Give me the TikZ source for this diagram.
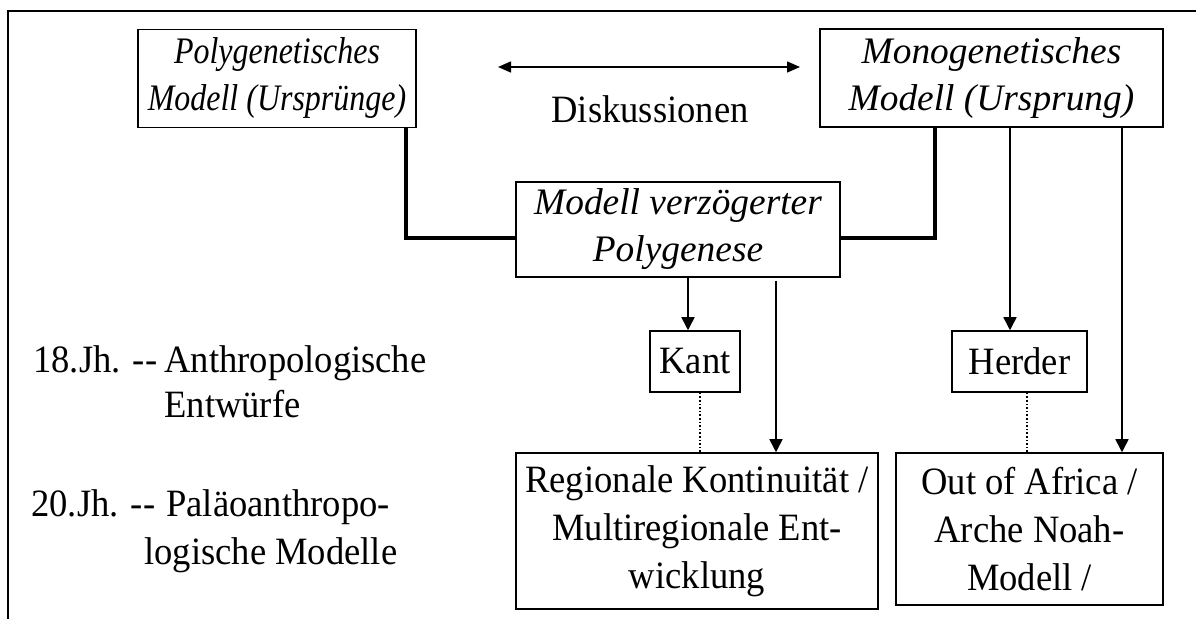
\documentclass[tikz,border=0pt]{standalone}
\usepackage{fontspec}
\setmainfont{Liberation Serif}
\newfontfamily\narrowserif[FakeStretch=0.945]{Liberation Serif}
\newfontfamily\condensedserif[FakeStretch=0.855]{Liberation Serif}
\usetikzlibrary{arrows.meta}

\begin{document}
\begin{tikzpicture}[x=0.5pt,y=-0.5pt,
  txt/.style={font=\narrowserif\fontsize{19.35}{24}\selectfont},
  box/.style={txt, draw, line width=0.75pt, inner sep=0pt, align=center},
  ibox/.style={draw, line width=0.75pt, inner sep=0pt, align=center,
    font=\fontsize{18.7}{23.5}\selectfont\itshape},
  narrowibox/.style={ibox, font=\condensedserif\fontsize{18.7}{23.5}\selectfont\itshape},
  link/.style={line width=1.6pt},
  arr/.style={line width=0.75pt, -{Triangle[length=6.5pt,width=6.5pt]}},
  dots/.style={line width=0.75pt, dash pattern=on 0.8pt off 1pt},
  label/.style={txt, inner sep=0pt, anchor=base west}]

\useasboundingbox (0,0) rectangle (1196,619);

% frame (open at the right and bottom)
\draw[line width=1pt] (8,619) -- (8,11) -- (1196,11);

% model boxes
\node[narrowibox, minimum width=139pt, minimum height=49pt] (poly) at (277,78.5)
  {Polygenetisches\\Modell (Ursprünge)};
\node[ibox, minimum width=171.5pt, minimum height=49pt] (mono) at (991.5,78)
  {Monogenetisches\\Modell (Ursprung)};
\node[ibox, minimum width=162pt, minimum height=47.5pt] (delay) at (678,229.5)
  {Modell verzögerter\\Polygenese};

% authors
\node[box, minimum width=45pt, minimum height=30.5pt] (kant) at (695,361.5) {Kant};
\node[box, minimum width=67.5pt, minimum height=30.5pt] (herder) at (1019.5,361.5) {Herder};

% modern models
\node[box, minimum width=181pt, minimum height=78pt] (regio) at (697,531)
  {Regionale Kontinuität /\\Multiregionale Ent-\\wicklung};
\node[box, minimum width=133.5pt, minimum height=76pt] (africa) at (1029.5,529)
  {Out of Africa /\\Arche Noah-\\Modell /};

% discussion between the two classic models
\coordinate (dl) at (498,67);
\coordinate (dr) at (800,67);
\draw[line width=0.75pt, {Triangle[length=6.5pt,width=5.5pt]}-{Triangle[length=6.5pt,width=5.5pt]}] (dl) -- (dr);
\node[txt, inner sep=0pt, anchor=base] (disk) at (650,123) {Diskussionen};

% both classic models lead into the delayed polygenesis
\draw[link] ([xshift=64.5pt]poly.south) |- ([yshift=-4.25pt]delay.west);
\draw[link] ([xshift=-28.25pt]mono.south) |- ([yshift=-4.25pt]delay.east);

% arrows down to authors and models
\draw[arr] ([xshift=5pt]delay.south) -- ([xshift=-3.5pt]kant.north);
\coordinate (dfree) at (776,281);
\draw[arr] (dfree) -- ([xshift=39.5pt]regio.north);
\draw[arr] ([xshift=9.25pt]mono.south) -- ([xshift=-4.75pt]herder.north);
\draw[arr] ([xshift=65.25pt]mono.south) -- ([xshift=46.25pt]africa.north);

% dotted links from authors to the modern models
\draw[dots] ([xshift=2.5pt]kant.south) -- ([xshift=1.5pt]regio.north);
\draw[dots] ([xshift=3.75pt]herder.south) -- ([xshift=-1.25pt]africa.north);

% time scale on the left
\node[label] (c18) at (33,373) {18.Jh. -{}-};
\node[label] (c18t) at (164,373) {Anthropologische};
\node[label] (c18b) at (164,418) {Entwürfe};
\node[label] (c20) at (31,517) {20.Jh. -{}-};
\node[label] (c20t) at (166,517) {Paläoanthropo-};
\node[label] (c20b) at (144,565) {logische Modelle};
\end{tikzpicture}
\end{document}
